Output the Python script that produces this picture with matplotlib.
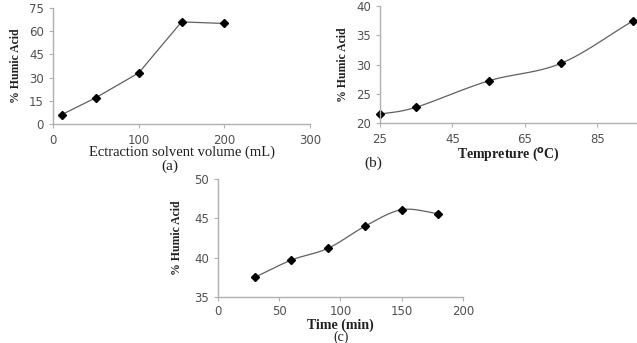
import numpy as np
import matplotlib
matplotlib.use('Agg')
import matplotlib.pyplot as plt

# ---- data ----
vol_ml = [10, 50, 100, 150, 200]
ha_vol = [6.0, 17.0, 33.0, 66.0, 65.0]

temp_c = [25, 35, 55, 75, 95]
ha_temp = [21.5, 22.7, 27.2, 30.2, 37.5]

time_min = [30, 60, 90, 120, 150, 180]
ha_time = [37.5, 39.7, 41.2, 44.0, 46.1, 45.6]

AX_COL = '#b0b0b0'
TXT_COL = '#505050'
LINE_COL = '#606060'


def smooth(x, y, n=30):
    """Catmull-Rom style curve through the points (like Excel's smoothed line)."""
    x = np.asarray(x, float); y = np.asarray(y, float)
    P = np.column_stack([x, y])
    P = np.vstack([P[0] - (P[1] - P[0]), P, P[-1] + (P[-1] - P[-2])])
    out = []
    for i in range(1, len(P) - 2):
        p0, p1, p2, p3 = P[i - 1], P[i], P[i + 1], P[i + 2]
        t = np.linspace(0, 1, n)[:, None]
        c1 = p1 + (p2 - p0) / 6.0
        c2 = p2 - (p3 - p1) / 6.0
        seg = ((1 - t) ** 3) * p1 + 3 * ((1 - t) ** 2) * t * c1 + 3 * (1 - t) * t ** 2 * c2 + t ** 3 * p2
        out.append(seg)
    S = np.vstack(out)
    return S[:, 0], S[:, 1]


def style(ax, ypad, xpad=4):
    for s in ('top', 'right'):
        ax.spines[s].set_visible(False)
    for s in ('left', 'bottom'):
        ax.spines[s].set_color(AX_COL)
        ax.spines[s].set_linewidth(1.0)
    ax.tick_params(colors=AX_COL, labelcolor=TXT_COL, labelsize=8.5, length=3, width=0.8,
                   direction='out')
    ax.tick_params(axis='x', pad=xpad)
    ax.set_ylabel('% Humic Acid', family='Liberation Serif', fontweight='bold',
                  fontsize=8.5, color='#202020', labelpad=ypad)


fig = plt.figure(figsize=(6.37, 3.43), dpi=100)

# (a)
ax = fig.add_axes([0.0832, 0.6385, 0.4035, 0.3382])
ax.plot(vol_ml, ha_vol, '-', color=LINE_COL, lw=0.9)
ax.plot(vol_ml, ha_vol, 'D', color='black', ms=4.5)
ax.set_xlim(0, 300); ax.set_ylim(0, 75)
ax.set_xticks([0, 100, 200, 300]); ax.set_yticks([0, 15, 30, 45, 60, 75])
style(ax, 5)
ax.set_xlabel('Ectraction solvent volume (mL)', family='Liberation Serif', fontsize=10.5,
              color='#202020', labelpad=-1)
fig.text(170 / 637, 1 - 166 / 343, '(a)', family='Liberation Serif', fontsize=11,
         ha='center', va='center', color='#202020')

# (b)
ax = fig.add_axes([0.5965, 0.6414, 0.4035, 0.3411])
xs, ys = smooth(temp_c, ha_temp)
ax.plot(xs, ys, '-', color=LINE_COL, lw=0.9, clip_on=False)
ax.plot(temp_c, ha_temp, 'D', color='black', ms=4.5, clip_on=False)
ax.set_xlim(25, 96); ax.set_ylim(20, 40)
ax.set_xticks([25, 45, 65, 85]); ax.set_yticks([20, 25, 30, 35, 40])
style(ax, 5)
ax.set_xlabel('Tempreture ($^{\\mathbf{o}}$C)', family='Liberation Serif', fontweight='bold',
              fontsize=10, color='#202020', labelpad=0)
fig.text(373 / 637, 1 - 163 / 343, '(b)', family='Liberation Serif', fontsize=11,
         ha='center', va='center', color='#202020')

# (c)
ax = fig.add_axes([0.3422, 0.1341, 0.3846, 0.344])
xs, ys = smooth(time_min, ha_time)
ax.plot(xs, ys, '-', color=LINE_COL, lw=0.9)
ax.plot(time_min, ha_time, 'D', color='black', ms=4.5)
ax.set_xlim(0, 200); ax.set_ylim(35, 50)
ax.set_xticks([0, 50, 100, 150, 200]); ax.set_yticks([35, 40, 45, 50])
style(ax, 8, xpad=3)
ax.set_xlabel('Time (min)', family='Liberation Serif', fontweight='bold',
              fontsize=10, color='#202020', labelpad=0)
fig.text(341 / 637, 1 - 337 / 343, '(c)', family='Liberation Serif', fontsize=10,
         ha='center', va='center', color='#202020')

fig.savefig('out.png', dpi=100)
